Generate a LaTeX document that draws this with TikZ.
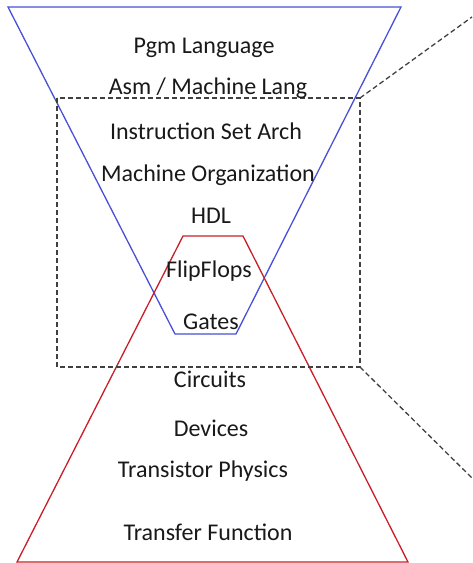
\documentclass[tikz,border=0pt]{standalone}
\usepackage{fontspec}
\setmainfont{Carlito}
\definecolor{swblue}{RGB}{72,80,214}
\definecolor{hwred}{RGB}{200,30,40}
\tikzset{
  lvl/.style={anchor=base,font=\fontsize{24}{28}\selectfont,text=black!90,inner sep=0pt},
  box/.style={densely dashed,dash pattern=on 5pt off 3pt,draw=black!75,line width=1.3pt}
}
\begin{document}
\begin{tikzpicture}[x=1pt,y=-1pt,line width=1.3pt]
\useasboundingbox (0,0) rectangle (472,563);
% software funnel
\draw[swblue] (8,7)--(401,7)--(236,334)--(175,334)--cycle;
% hardware pyramid
\draw[hwred] (183,236)--(243,236)--(408,562)--(17,562)--cycle;
% zoom box
\coordinate (tl) at (57,98);
\coordinate (br) at (360,367);
\coordinate (tr) at (360,98);
\coordinate (far1) at (472,17);
\coordinate (far2) at (472,478);
\draw[box] (tl) rectangle (br);
\draw[box] (tr)--(far1);
\draw[box] (br)--(far2);
% levels
\node[lvl] (pgm) at (204,53){Pgm Language};
\node[lvl] (asm) at (208,94){Asm / Machine Lang};
\node[lvl] (isa) at (206,139){Instruction Set Arch};
\node[lvl] (org) at (208,181){Machine Organization};
\node[lvl] (hdl) at (211,223){HDL};
\node[lvl] (ff) at (209,277){FlipFlops};
\node[lvl] (gates) at (211,329){Gates};
\node[lvl] (circ) at (210,387){Circuits};
\node[lvl] (dev) at (211,436){Devices};
\node[lvl] (phys) at (203,477){Transistor Physics};
\node[lvl] (tf) at (208,540){Transfer Function};
\end{tikzpicture}
\end{document}
